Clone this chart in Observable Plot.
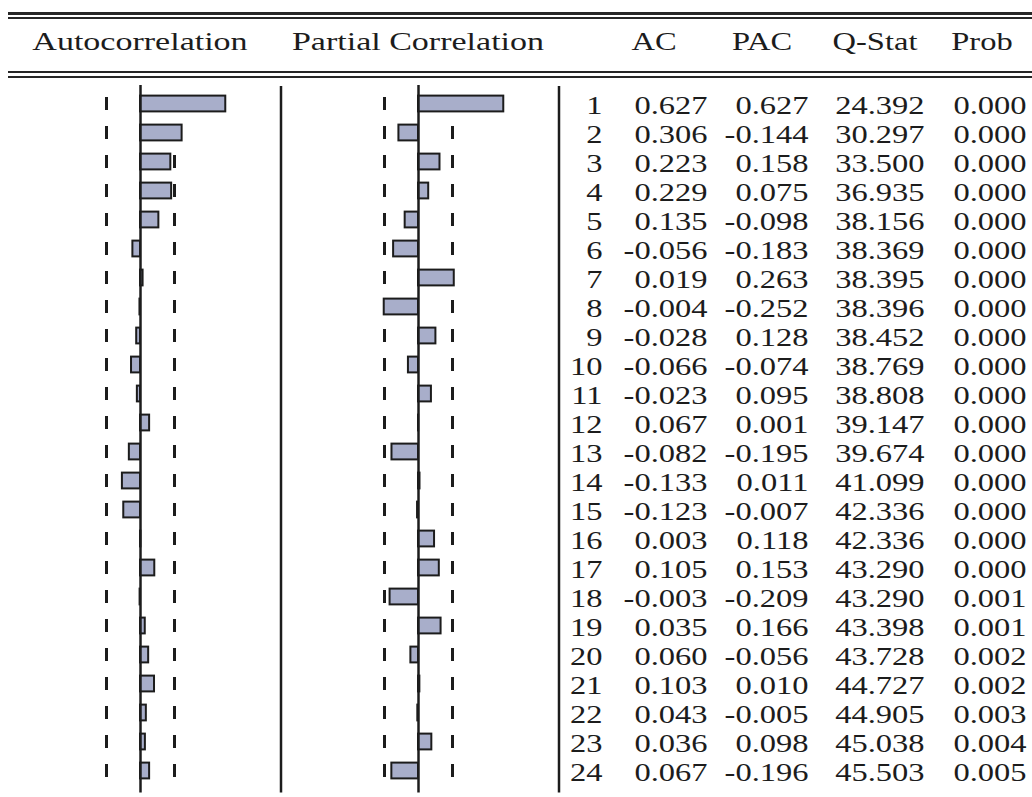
<!DOCTYPE html>
<html><head><meta charset="utf-8">
<script src="https://cdn.jsdelivr.net/npm/d3@7"></script>
<script src="https://cdn.jsdelivr.net/npm/@observablehq/plot@0.6"></script>
<style>
html,body{margin:0;padding:0;background:#fff;}
#chart{position:relative;width:1032px;height:797px;overflow:hidden;font-family:"Liberation Serif","Times New Roman",serif;color:#1c1c1c;}
.rule{position:absolute;left:8px;right:0;background:#262626;}
.hdr{position:absolute;top:29px;font-size:25px;line-height:25px;white-space:nowrap;transform:translateX(-50%) scaleX(1.3);}
.hdr.wide{transform:translateX(-50%) scaleX(1.36);}
.panel{position:absolute;top:0;}
.panel svg{overflow:visible;}
</style></head><body><div id="chart"></div>
<script>
const lags = d3.range(1, 25);
const acValues  = [0.627,0.306,0.223,0.229,0.135,-0.056,0.019,-0.004,-0.028,-0.066,-0.023,0.067,-0.082,-0.133,-0.123,0.003,0.105,-0.003,0.035,0.060,0.103,0.043,0.036,0.067];
const pacValues = [0.627,-0.144,0.158,0.075,-0.098,-0.183,0.263,-0.252,0.128,-0.074,0.095,0.001,-0.195,0.011,-0.007,0.118,0.153,-0.209,0.166,-0.056,0.010,-0.005,0.098,-0.196];
const qStat     = [24.392,30.297,33.500,36.935,38.156,38.369,38.395,38.396,38.452,38.769,38.808,39.147,39.674,41.099,42.336,42.336,43.290,43.290,43.398,43.728,44.727,44.905,45.038,45.503];
const probValues= [0.000,0.000,0.000,0.000,0.000,0.000,0.000,0.000,0.000,0.000,0.000,0.000,0.000,0.000,0.000,0.000,0.000,0.001,0.001,0.002,0.002,0.003,0.004,0.005];
const ciBound = 0.25;
const panelTitles = ["Autocorrelation", "Partial Correlation"];
const tableColumns = ["lag", "AC", "PAC", "Q-Stat", "Prob"];
const tableHeaders = ["AC", "PAC", "Q-Stat", "Prob"];

const chart = document.getElementById("chart");
const ink = "#1c1c1c";
const barFill = "#a8aeca";
const FONT = "Liberation Serif, Times New Roman, serif";
const H = 797, MT = 86.5, MB = 10.5;

// double rules
[[12,2.5],[17,2],[71,2],[76,2]].forEach(([top,h]) => {
  const d = document.createElement("div");
  d.className = "rule"; d.style.top = top + "px"; d.style.height = h + "px";
  chart.appendChild(d);
});

// headers
const headerCenters = {"Autocorrelation":140, "Partial Correlation":418, "AC":654, "PAC":762, "Q-Stat":875, "Prob":982};
[...panelTitles, ...tableHeaders].forEach(t => {
  const s = document.createElement("div");
  s.className = "hdr" + (panelTitles.includes(t) ? " wide" : "");
  s.textContent = t; s.style.left = headerCenters[t] + "px";
  chart.appendChild(s);
});

function panel(values, width, domain) {
  const rows = lags.map((lag, i) => ({lag, v: values[i]}));
  return Plot.plot({
    width, height: H, marginTop: MT, marginBottom: MB, marginLeft: 0, marginRight: 0,
    x: {domain, axis: null},
    y: {type: "band", domain: lags, axis: null, padding: 0},
    style: {background: "transparent"},
    marks: [
      Plot.tickX(rows, {x: d => -ciBound, y: "lag", stroke: ink, strokeWidth: 3, insetTop: 8, insetBottom: 8}),
      Plot.tickX(rows, {x: d => ciBound, y: "lag", stroke: ink, strokeWidth: 3, insetTop: 8, insetBottom: 8}),
      Plot.barX(rows, {x1: d => 0, x2: "v", y: "lag", fill: barFill, stroke: ink, strokeWidth: 2, insetTop: 6.6, insetBottom: 6.6}),
      Plot.ruleX([0], {stroke: ink, strokeWidth: 2.5, insetTop: -1.5, insetBottom: -6}),
      Plot.ruleX([domain[1]], {dx: -1.5, stroke: ink, strokeWidth: 2.5, insetTop: -0.5, insetBottom: -6})
    ]
  });
}

function place(node, left) {
  const d = document.createElement("div");
  d.className = "panel"; d.style.left = left + "px";
  d.appendChild(node); chart.appendChild(d);
}

place(panel(acValues, 282, [-140/136, 142/136]), 0);
place(panel(pacValues, 278, [-136/136, 142/136]), 282);

// table
const cells = [];
lags.forEach((lag, i) => {
  cells.push({lag, col: "lag", text: String(lag)});
  cells.push({lag, col: "AC", text: acValues[i].toFixed(3)});
  cells.push({lag, col: "PAC", text: pacValues[i].toFixed(3)});
  cells.push({lag, col: "Q-Stat", text: qStat[i].toFixed(3)});
  cells.push({lag, col: "Prob", text: probValues[i].toFixed(3)});
});
const colNudge = {"lag": 0, "AC": -1, "PAC": -6, "Q-Stat": 4, "Prob": 0};
const table = Plot.plot({
  width: 472, height: H, marginTop: MT, marginBottom: MB, marginLeft: 0, marginRight: 0,
  x: {type: "point", domain: tableColumns, range: [41, 466], padding: 0, axis: null},
  y: {type: "band", domain: lags, axis: null, padding: 0},
  style: {background: "transparent"},
  marks: tableColumns.map(c =>
    Plot.text(cells.filter(d => d.col === c), {x: "col", y: "lag", text: "text", textAnchor: "end", fontSize: 25, fontFamily: FONT, fill: ink, dx: colNudge[c], dy: 2})
  )
});
table.querySelectorAll("text").forEach(t => {
  const tr = t.getAttribute("transform");
  if (tr) t.setAttribute("transform", tr + " scale(1.3,1)");
  else {
    const x = t.getAttribute("x") || 0, y = t.getAttribute("y") || 0;
    t.removeAttribute("x"); t.removeAttribute("y");
    t.setAttribute("transform", `translate(${x},${y}) scale(1.3,1)`);
  }
});
place(table, 560);
</script></body></html>
